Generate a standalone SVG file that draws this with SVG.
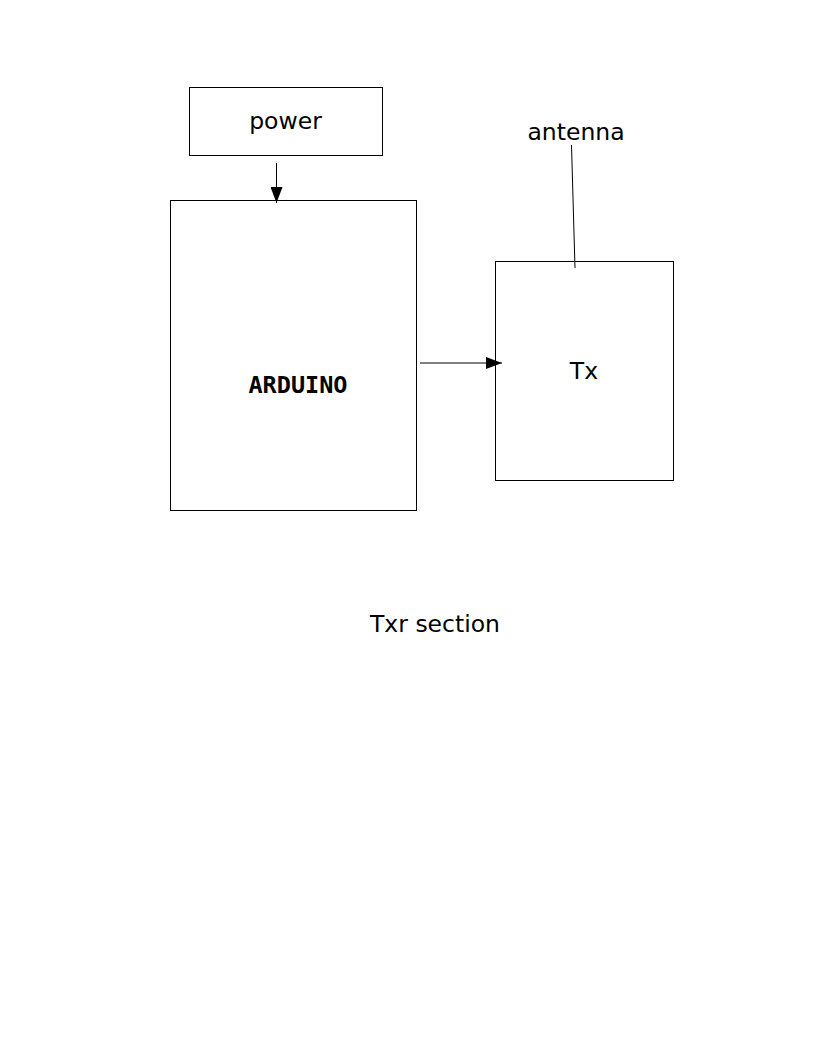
<svg xmlns="http://www.w3.org/2000/svg" width="816" height="1056" viewBox="0 0 816 1056">
<style>
.box{fill:none;stroke:#000;stroke-width:1}
.lbl{font-family:"DejaVu Sans",sans-serif;font-size:23.5px;fill:#000;text-anchor:middle}
.mono{font-family:"DejaVu Sans Mono",monospace;font-weight:bold;font-size:23.5px;fill:#000;text-anchor:middle}
.conn{stroke:#000;stroke-width:1;fill:none}
</style>
<defs>
<marker id="arr" markerWidth="16" markerHeight="12" refX="16" refY="6" orient="auto" markerUnits="userSpaceOnUse">
<path d="M0,0 L16,6 L0,12 Z" fill="#000"/>
</marker>
</defs>
<rect width="816" height="1056" fill="#fff"/>
<g id="power"><rect class="box" x="189.5" y="87.5" width="193" height="68"/><text class="lbl" x="285.5" y="129">power</text></g>
<g id="arduino"><rect class="box" x="170.5" y="200.5" width="246" height="310"/><text class="mono" x="298" y="393">ARDUINO</text></g>
<g id="tx"><rect class="box" x="495.5" y="261.5" width="178" height="219"/><text class="lbl" x="584" y="379">Tx</text></g>
<g id="antenna"><text class="lbl" x="576" y="140">antenna</text></g>
<g id="caption"><text class="lbl" x="435" y="632">Txr section</text></g>
<g id="connectors">
<line class="conn" x1="276.5" y1="163" x2="276.5" y2="203" marker-end="url(#arr)"/>
<line class="conn" x1="420" y1="363" x2="502" y2="363" marker-end="url(#arr)"/>
<line class="conn" x1="571.5" y1="145" x2="575" y2="268"/>
</g>
</svg>
